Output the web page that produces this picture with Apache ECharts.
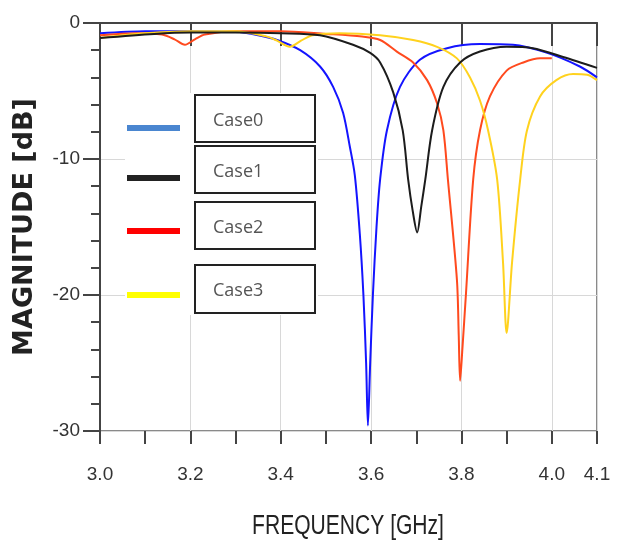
<!DOCTYPE html>
<html>
<head>
<meta charset="utf-8">
<script src="https://cdn.jsdelivr.net/npm/echarts@6/dist/echarts.min.js"></script>
<style>
  html, body { margin: 0; padding: 0; background: #fff; }
  #chart { width: 622px; height: 552px; }
</style>
</head>
<body>
<div id="chart"></div>
<script>
  // values (GHz, dB)
  var caseNames = ['Case0', 'Case1', 'Case2', 'Case3'];
  var caseColors = ['#1414ff', '#1c1c1c', '#ff4a1e', '#ffd21e'];
  var legendColors = ['#4a86d0', '#222222', '#ff0000', '#ffff00'];

  var freq0 = [3.0, 3.1, 3.2, 3.3, 3.35, 3.392, 3.443, 3.487, 3.516, 3.538, 3.553, 3.564, 3.575, 3.583, 3.589, 3.593, 3.598, 3.604, 3.612, 3.62, 3.635, 3.664, 3.708, 3.768, 3.841, 3.914, 3.99, 4.062, 4.1];
  var mag0 = [-0.75, -0.6, -0.6, -0.65, -0.9, -1.25, -2.0, -3.2, -4.7, -6.6, -9.1, -11.2, -15.5, -20, -25, -29.6, -25, -20, -15, -11.5, -7.9, -4.7, -2.7, -1.85, -1.55, -1.6, -2.2, -3.2, -4.0];

  var freq1 = [3.0, 3.12, 3.2, 3.3, 3.4, 3.487, 3.56, 3.598, 3.62, 3.649, 3.67, 3.682, 3.692, 3.702, 3.711, 3.72, 3.735, 3.76, 3.797, 3.841, 3.9, 3.958, 4.025, 4.1];
  var mag1 = [-1.1, -0.8, -0.7, -0.7, -0.75, -0.9, -1.6, -2.2, -2.9, -5.1, -7.9, -11.5, -13.8, -15.4, -13.5, -11.5, -7.9, -4.7, -2.9, -2.1, -1.75, -1.85, -2.5, -3.3];

  var freq2 = [3.0, 3.08, 3.137, 3.165, 3.188, 3.21, 3.232, 3.3, 3.4, 3.5, 3.58, 3.62, 3.657, 3.693, 3.724, 3.746, 3.76, 3.77, 3.79, 3.794, 3.797, 3.802, 3.81, 3.826, 3.841, 3.863, 3.9, 3.937, 3.974, 4.0];
  var mag2 = [-0.9, -0.75, -0.85, -1.2, -1.6, -1.2, -0.85, -0.6, -0.6, -0.8, -1.0, -1.25, -2.1, -2.9, -4.2, -5.9, -7.9, -11.5, -18.9, -23, -26.3, -24, -19.9, -11.5, -7.9, -5.4, -3.5, -2.9, -2.6, -2.6];

  var freq3 = [3.0, 3.08, 3.2, 3.3, 3.37, 3.392, 3.42, 3.445, 3.47, 3.53, 3.62, 3.693, 3.746, 3.79, 3.819, 3.841, 3.859, 3.879, 3.892, 3.9, 3.912, 3.93, 3.945, 3.974, 4.01, 4.047, 4.078, 4.1];
  var mag3 = [-1.1, -0.8, -0.6, -0.6, -1.0, -1.3, -1.75, -1.3, -0.9, -0.75, -0.9, -1.25, -1.75, -2.6, -4.0, -5.7, -7.9, -11.5, -17.6, -22.8, -17.6, -11.5, -7.9, -5.4, -4.2, -3.75, -3.8, -4.2];

  var freqs = [freq0, freq1, freq2, freq3];
  var mags = [mag0, mag1, mag2, mag3];

  var labelFont = "'Liberation Sans', Arial, sans-serif";

  var chart = echarts.init(document.getElementById('chart'));

  var series = [];
  var drawOrder = [0, 2, 3, 1];
  drawOrder.forEach(function (k) {
    var pts = [];
    for (var i = 0; i < freqs[k].length; i++) pts.push([freqs[k][i], mags[k][i]]);
    series.push({
      name: caseNames[k],
      type: 'line',
      data: pts,
      showSymbol: false,
      smooth: 0.3,
      lineStyle: { color: caseColors[k], width: 2 },
      z: 3
    });
  });

  // hand drawn legend like in the picture
  var boxes = [[95, 142], [146, 193], [202, 249], [265, 313]];
  var sampleY = [128, 178, 231, 295];
  var extras = [{
    type: 'rect', shape: { x: 125, y: 93, width: 193, height: 222 },
    style: { fill: '#fff' }, z: 50
  }];
  for (var i = 0; i < 4; i++) {
    extras.push({
      type: 'rect', shape: { x: 127, y: sampleY[i] - 3, width: 53, height: 6 },
      style: { fill: legendColors[i] }, z: 51
    });
    extras.push({
      type: 'rect', shape: { x: 195, y: boxes[i][0], width: 120, height: boxes[i][1] - boxes[i][0] },
      style: { fill: '#fff', stroke: '#222', lineWidth: 2 }, z: 51
    });
    extras.push({
      type: 'text', x: 213, y: (boxes[i][0] + boxes[i][1]) / 2 + 2,
      style: { text: caseNames[i], fill: '#555', font: "18px 'Open Sans', sans-serif", verticalAlign: 'middle' },
      z: 52
    });
  }
  // x axis title, narrow like the original
  extras.push({
    type: 'text', x: 348, y: 527, scaleX: 0.78, originX: 0,
    style: { text: 'FREQUENCY [GHz]', fill: '#222', font: "27px 'Liberation Sans', Arial, sans-serif",
      align: 'center', verticalAlign: 'middle' },
    z: 10
  });

  chart.setOption({
    animation: false,
    grid: {
      left: 100, top: 23, width: 497, height: 408,
      show: true, borderColor: '#8a8a8a', borderWidth: 2, backgroundColor: '#fff'
    },
    xAxis: [{
      type: 'value', min: 3.0, max: 4.1, interval: 0.2, position: 'bottom',
      axisLine: { lineStyle: { color: '#444', width: 2 } },
      axisTick: { length: 23, lineStyle: { color: '#444', width: 2 } },
      axisLabel: { margin: 34, fontFamily: labelFont, fontSize: 19, color: '#333',
        formatter: function (v) { return v.toFixed(1); } },
      splitLine: { show: true, lineStyle: { color: '#d8d8d8', width: 1 } }
    }, {
      type: 'value', min: 3.0, max: 4.1, interval: 0.1, position: 'bottom',
      axisLine: { show: false },
      axisTick: { length: 13, lineStyle: { color: '#444', width: 2 } },
      axisLabel: { show: false },
      splitLine: { show: false }
    }],
    yAxis: {
      type: 'value', min: -30, max: 0, interval: 10,
      name: 'MAGNITUDE [dB]', nameLocation: 'middle', nameGap: 62,
      nameTextStyle: { fontFamily: 'DejaVu Sans', fontWeight: 'bold', fontSize: 27, color: '#222' },
      axisLine: { show: true, lineStyle: { color: '#444', width: 2 } },
      axisTick: { length: 17, lineStyle: { color: '#444', width: 2 } },
      minorTick: { show: true, splitNumber: 5, length: 9, lineStyle: { color: '#444', width: 2 } },
      axisLabel: { margin: 20, fontFamily: labelFont, fontSize: 19, color: '#333' },
      splitLine: { show: true, lineStyle: { color: '#d8d8d8', width: 1 } }
    },
    series: series,
    graphic: extras
  });
</script>
</body>
</html>
